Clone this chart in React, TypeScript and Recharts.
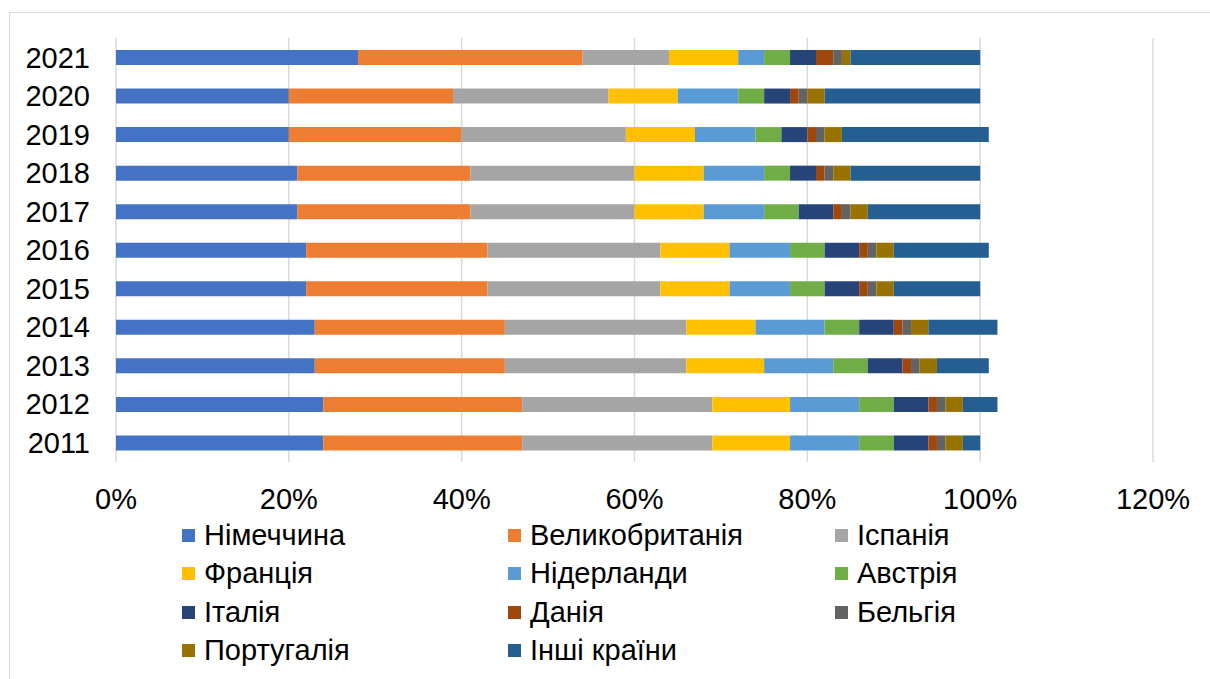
import { Bar, BarChart, CartesianGrid, XAxis, YAxis } from "recharts";

// роки знизу вгору: 2011 ... 2021
const years = ["2011", "2012", "2013", "2014", "2015", "2016", "2017", "2018", "2019", "2020", "2021"];

// частки країн, %
const germany = [24, 24, 23, 23, 22, 22, 21, 21, 20, 20, 28];
const uk = [23, 23, 22, 22, 21, 21, 20, 20, 20, 19, 26];
const spain = [22, 22, 21, 21, 20, 20, 19, 19, 19, 18, 10];
const france = [9, 9, 9, 8, 8, 8, 8, 8, 8, 8, 8];
const netherlands = [8, 8, 8, 8, 7, 7, 7, 7, 7, 7, 3];
const austria = [4, 4, 4, 4, 4, 4, 4, 3, 3, 3, 3];
const italy = [4, 4, 4, 4, 4, 4, 4, 3, 3, 3, 3];
const denmark = [1, 1, 1, 1, 1, 1, 1, 1, 1, 1, 2];
const belgium = [1, 1, 1, 1, 1, 1, 1, 1, 1, 1, 1];
const portugal = [2, 2, 2, 2, 2, 2, 2, 2, 2, 2, 1];
const others = [2, 4, 6, 8, 10, 11, 13, 15, 17, 18, 15];

const xTicks = [0, 20, 40, 60, 80, 100, 120];

const series = [
  { key: "de", label: "Німеччина", values: germany, color: "#4472C4" },
  { key: "uk", label: "Великобританія", values: uk, color: "#ED7D31" },
  { key: "es", label: "Іспанія", values: spain, color: "#A5A5A5" },
  { key: "fr", label: "Франція", values: france, color: "#FFC000" },
  { key: "nl", label: "Нідерланди", values: netherlands, color: "#5B9BD5" },
  { key: "at", label: "Австрія", values: austria, color: "#70AD47" },
  { key: "it", label: "Італія", values: italy, color: "#264478" },
  { key: "dk", label: "Данія", values: denmark, color: "#9E480E" },
  { key: "be", label: "Бельгія", values: belgium, color: "#636363" },
  { key: "pt", label: "Португалія", values: portugal, color: "#997300" },
  { key: "other", label: "Інші країни", values: others, color: "#255E91" },
];

const data = years.map((year, i) => {
  const row: Record<string, string | number> = { year };
  series.forEach((s) => {
    row[s.key] = s.values[i];
  });
  return row;
});

const font = "'Liberation Sans', Arial, sans-serif";
const tickStyle = { fontSize: 29, fill: "#000", fontFamily: font };

function LegendGrid() {
  return (
    <div
      style={{
        position: "absolute",
        left: 182,
        top: 516,
        display: "grid",
        gridTemplateColumns: "326px 327px 300px",
        gridAutoRows: "38.5px",
        fontFamily: font,
        fontSize: 29,
        color: "#000",
      }}
    >
      {series.map((s) => (
        <div key={s.key} style={{ display: "flex", alignItems: "center", whiteSpace: "nowrap" }}>
          <span style={{ width: 13, height: 13, background: s.color, marginRight: 9, flex: "none" }} />
          {s.label}
        </div>
      ))}
    </div>
  );
}

export default function App() {
  return (
    <div
      style={{
        position: "fixed",
        left: 0,
        top: 0,
        width: 1210,
        height: 679,
        overflow: "hidden",
        background: "#fff",
      }}
    >
      <div
        style={{
          position: "absolute",
          left: 9,
          top: 12,
          width: 1240,
          height: 720,
          border: "1px solid #d9d9d9",
        }}
      />
      <div style={{ position: "absolute", left: 0, top: 0 }}>
        <BarChart
          width={1210}
          height={679}
          data={data}
          layout="vertical"
          barSize={15}
          margin={{ top: 38, right: 57, bottom: 167, left: 0 }}
        >
          <CartesianGrid horizontal={false} stroke="#d9d9d9" strokeWidth={1.5} />
          <XAxis
            type="number"
            domain={[0, 120]}
            ticks={xTicks}
            tickFormatter={(v) => `${v}%`}
            axisLine={false}
            tickLine={false}
            tick={tickStyle}
            tickMargin={20}
            height={50}
            interval={0}
          />
          <YAxis
            type="category"
            dataKey="year"
            reversed
            width={116}
            axisLine={false}
            tickLine={false}
            tick={tickStyle}
            tickMargin={20}
            interval={0}
          />
          {series.map((s) => (
            <Bar
              key={s.key}
              dataKey={s.key}
              name={s.label}
              stackId="a"
              fill={s.color}
              isAnimationActive={false}
            />
          ))}
        </BarChart>
      </div>
      <LegendGrid />
    </div>
  );
}
